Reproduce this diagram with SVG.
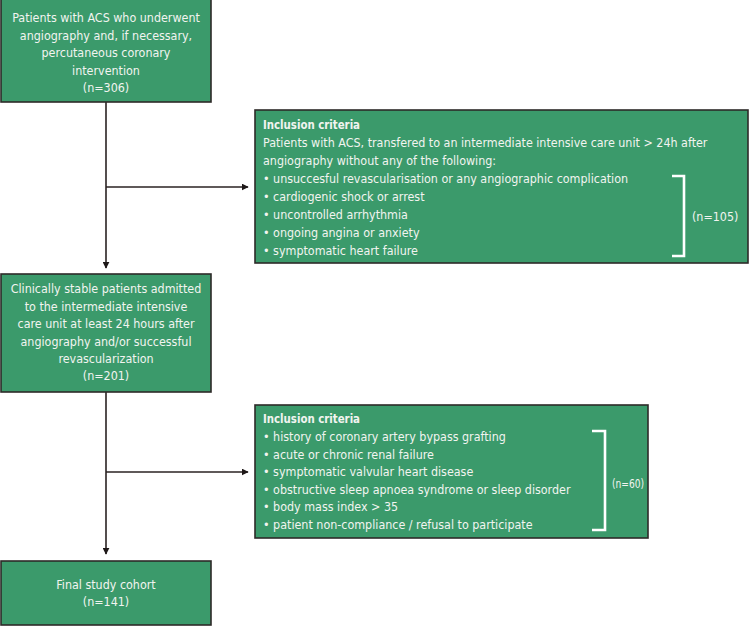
<svg xmlns="http://www.w3.org/2000/svg" width="750" height="626" viewBox="0 0 750 626">
<style>
.box{fill:#3b9a6b;stroke:#2d2a28;stroke-width:1.6}
text{font-family:"Liberation Sans Narrow","DejaVu Sans Condensed","Liberation Sans",sans-serif;font-size:12.4px;fill:#f2f4f0}
.c{text-anchor:middle}
.b{font-weight:bold}
.ln{stroke:#2a2222;stroke-width:1.6;fill:none}
.br{stroke:#ffffff;stroke-width:2.6;fill:none}
</style>
<defs>
<marker id="ah" viewBox="0 0 10 10" refX="9" refY="5" markerWidth="7" markerHeight="7" markerUnits="userSpaceOnUse" orient="auto">
<path d="M0,0 L10,5 L0,10 z" fill="#1e1818"/>
</marker>
</defs>
<rect width="750" height="626" fill="#ffffff"/>
<g id="connectors">
<line class="ln" x1="106" y1="102" x2="106" y2="268" marker-end="url(#ah)"/>
<line class="ln" x1="106" y1="187" x2="248" y2="187" marker-end="url(#ah)"/>
<line class="ln" x1="106" y1="392" x2="106" y2="554" marker-end="url(#ah)"/>
<line class="ln" x1="106" y1="472" x2="248" y2="472" marker-end="url(#ah)"/>
</g>
<g id="n1">
<rect class="box" x="1" y="-1" width="210" height="103"/>
<text class="c" x="106" y="22">Patients with ACS who underwent</text>
<text class="c" x="106" y="39.5">angiography and, if necessary,</text>
<text class="c" x="106" y="57">percutaneous coronary</text>
<text class="c" x="106" y="74.5">intervention</text>
<text class="c" x="106" y="92">(n=306)</text>
</g>
<g id="n2">
<rect class="box" x="255" y="110" width="493" height="153"/>
<text class="b" x="263" y="129" textLength="97" lengthAdjust="spacingAndGlyphs">Inclusion criteria</text>
<text x="263" y="147">Patients with ACS, transfered to an intermediate intensive care unit &gt; 24h after</text>
<text x="263" y="164.5">angiography without any of the following:</text>
<text x="263" y="182.5">• unsuccesful revascularisation or any angiographic complication</text>
<text x="263" y="200.5">• cardiogenic shock or arrest</text>
<text x="263" y="218.5">• uncontrolled arrhythmia</text>
<text x="263" y="236.5">• ongoing angina or anxiety</text>
<text x="263" y="254.5">• symptomatic heart failure</text>
<path class="br" d="M672,176 H684 V256 H672"/>
<text x="692" y="221">(n=105)</text>
</g>
<g id="n3">
<rect class="box" x="1" y="274" width="210" height="118"/>
<text class="c" x="106" y="293">Clinically stable patients admitted</text>
<text class="c" x="106" y="311">to the intermediate intensive</text>
<text class="c" x="106" y="328">care unit at least 24 hours after</text>
<text class="c" x="106" y="346">angiography and/or successful</text>
<text class="c" x="106" y="363">revascularization</text>
<text class="c" x="106" y="380">(n=201)</text>
</g>
<g id="n4">
<rect class="box" x="255" y="405" width="393" height="133"/>
<text class="b" x="263" y="423" textLength="97" lengthAdjust="spacingAndGlyphs">Inclusion criteria</text>
<text x="263" y="441">• history of coronary artery bypass grafting</text>
<text x="263" y="458.5">• acute or chronic renal failure</text>
<text x="263" y="476">• symptomatic valvular heart disease</text>
<text x="263" y="493.5">• obstructive sleep apnoea syndrome or sleep disorder</text>
<text x="263" y="511">• body mass index &gt; 35</text>
<text x="263" y="529">• patient non-compliance / refusal to participate</text>
<path class="br" d="M592,431 H605 V530 H592"/>
<text x="612" y="488" textLength="32" lengthAdjust="spacingAndGlyphs">(n=60)</text>
</g>
<g id="n5">
<rect class="box" x="1" y="561" width="210" height="64"/>
<text class="c" x="106" y="589">Final study cohort</text>
<text class="c" x="106" y="606">(n=141)</text>
</g>
</svg>
